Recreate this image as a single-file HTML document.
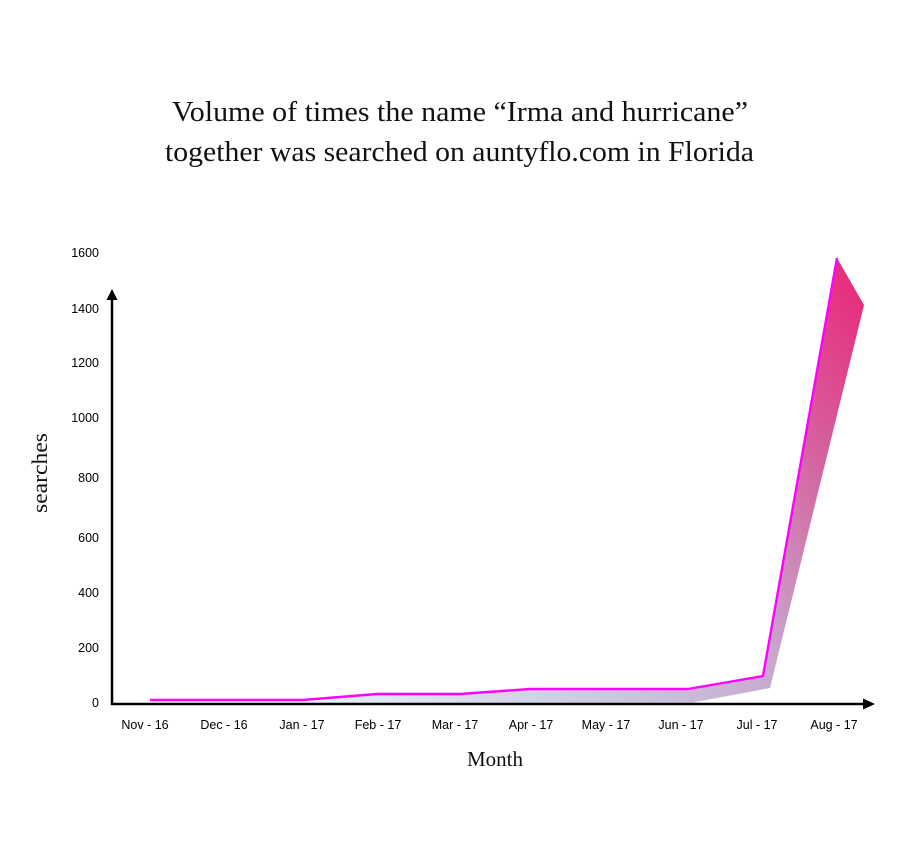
<!DOCTYPE html>
<html>
<head>
<meta charset="utf-8">
<style>
  html, body { margin: 0; padding: 0; background: #ffffff; }
  svg { display: block; }
</style>
</head>
<body>
<svg width="916" height="852" viewBox="0 0 916 852" xmlns="http://www.w3.org/2000/svg">
  <defs>
    <linearGradient id="g" gradientUnits="userSpaceOnUse" x1="320" y1="710" x2="860" y2="262">
      <stop offset="0" stop-color="#e2f2f7"/>
      <stop offset="0.35" stop-color="#cbc4dd"/>
      <stop offset="0.55" stop-color="#c8a6cc"/>
      <stop offset="0.8" stop-color="#d65c9a"/>
      <stop offset="1" stop-color="#ea2678"/>
    </linearGradient>
  </defs>
  <rect width="916" height="852" fill="#ffffff"/>

  <!-- Title -->
  <g font-family="'Liberation Serif', serif" font-size="29" fill="#111">
    <text x="172" y="121" textLength="576" lengthAdjust="spacingAndGlyphs">Volume of times the name “Irma and hurricane”</text>
    <text x="165" y="161" textLength="589" lengthAdjust="spacingAndGlyphs">together was searched on auntyflo.com in Florida</text>
  </g>

  <!-- filled band -->
  <polygon fill="url(#g)" points="303,703 377,695 460,695 530,690 688,690 763,676 837,258 864,305 770,688 693,702.5 530,703"/>

  <!-- magenta line -->
  <polyline fill="none" stroke="#ff00ff" stroke-width="2.4" stroke-linejoin="round"
    points="150,700 303,700 377,694 460,694 530,689 688,689 763,676 837,258"/>

  <!-- axes -->
  <line x1="112" y1="298" x2="112" y2="705" stroke="#000" stroke-width="2.5"/>
  <polygon points="112,289 106.5,300 117.5,300" fill="#000"/>
  <line x1="111" y1="704" x2="864" y2="704" stroke="#000" stroke-width="2.5"/>
  <polygon points="875,704 863,698.5 863,709.5" fill="#000"/>

  <!-- y tick labels -->
  <g font-family="'Liberation Sans', sans-serif" font-size="12.5" fill="#000" text-anchor="end">
    <text x="99" y="257">1600</text>
    <text x="99" y="313">1400</text>
    <text x="99" y="367">1200</text>
    <text x="99" y="422">1000</text>
    <text x="99" y="482">800</text>
    <text x="99" y="542">600</text>
    <text x="99" y="597">400</text>
    <text x="99" y="652">200</text>
    <text x="99" y="707">0</text>
  </g>

  <!-- y axis title -->
  <text transform="translate(47,473) rotate(-90)" text-anchor="middle" font-family="'Liberation Serif', serif" font-size="22" fill="#111" textLength="80" lengthAdjust="spacingAndGlyphs">searches</text>

  <!-- x tick labels -->
  <g font-family="'Liberation Sans', sans-serif" font-size="12.5" fill="#000" text-anchor="middle">
    <text x="145" y="729">Nov - 16</text>
    <text x="224" y="729">Dec - 16</text>
    <text x="302" y="729">Jan - 17</text>
    <text x="378" y="729">Feb - 17</text>
    <text x="455" y="729">Mar - 17</text>
    <text x="531" y="729">Apr - 17</text>
    <text x="606" y="729">May - 17</text>
    <text x="681" y="729">Jun - 17</text>
    <text x="757" y="729">Jul - 17</text>
    <text x="834" y="729">Aug - 17</text>
  </g>

  <!-- x axis title -->
  <text x="495" y="766" text-anchor="middle" font-family="'Liberation Serif', serif" font-size="21" fill="#111">Month</text>
</svg>
</body>
</html>
